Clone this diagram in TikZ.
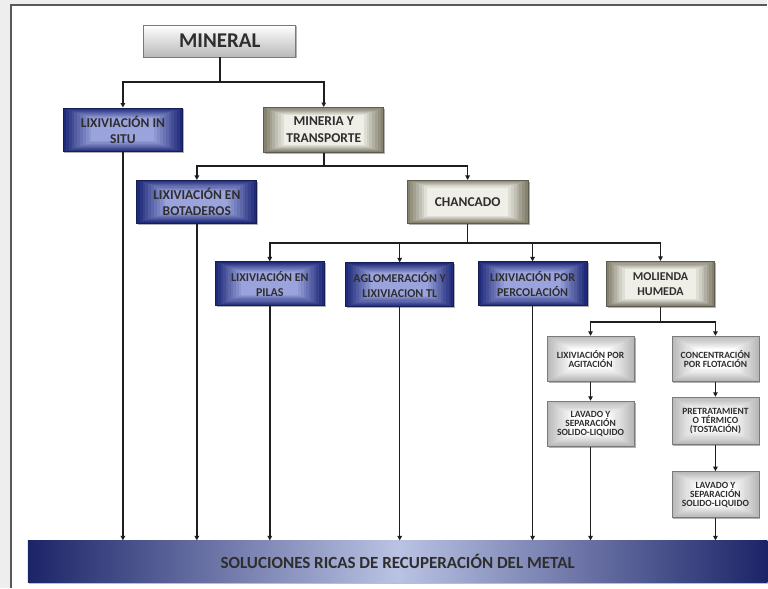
\documentclass[tikz,border=0pt]{standalone}
\usepackage{fontspec}
\setmainfont{Carlito}
\usetikzlibrary{arrows.meta,shadows,calc}

\definecolor{navy}{HTML}{1F2A78}
\definecolor{lightblue}{HTML}{9AA3DC}
\definecolor{khakiin}{HTML}{EFEEE7}
\definecolor{khakiout}{HTML}{858270}
\definecolor{khakiedge}{HTML}{5E5C4E}
\definecolor{greyout}{HTML}{B9B9B9}
\definecolor{greyedge}{HTML}{7A7A7A}
\definecolor{txt}{HTML}{2E2E2E}
\definecolor{linec}{HTML}{1E1E1E}
\definecolor{barnavy}{HTML}{1C2468}
\definecolor{barlight}{HTML}{BAC3E3}
\definecolor{pagebg}{HTML}{EEEEEE}

\begin{document}
\begin{tikzpicture}[x=1pt,y=-1pt,
  % rectangular glow from the rim (#2) to the centre (#1); #3 = steps to full centre colour
  rectglow/.style n args={3}{path picture={
    \foreach \i in {0,...,20}{
      \pgfmathsetmacro\t{0.5*\i/21}
      \pgfmathtruncatemacro\p{min(100,100*\i/#3)}
      \fill[#1!\p!#2]
        ($(path picture bounding box.south west)!\t!(path picture bounding box.north east)$)
        rectangle
        ($(path picture bounding box.north east)!\t!(path picture bounding box.south west)$);
    }}},
  basebox/.style={rectangle, align=center, inner sep=1pt, text=txt,
    font=\bfseries\fontsize{13.5}{16.5}\selectfont,
    drop shadow={shadow xshift=1.5pt, shadow yshift=-1.5pt, opacity=0.3, fill=black}},
  bluebox/.style={basebox, draw=navy!70!black, line width=0.8pt,
    rectglow={lightblue}{navy}{10}},
  khakibox/.style={basebox, draw=khakiedge, line width=0.8pt,
    rectglow={khakiin}{khakiout}{7}},
  rowfont/.style={font=\bfseries\fontsize{12}{15}\selectfont},
  greybox/.style={basebox, draw=greyedge, line width=0.8pt,
    rectglow={white}{greyout}{12},
    font=\bfseries\fontsize{9.5}{9}\selectfont},
  topbox/.style={basebox, draw=greyedge, line width=0.8pt,
    top color=white, bottom color=greyout,
    font=\bfseries\fontsize{21}{24}\selectfont},
  conn/.style={draw=linec, line width=1.6pt},
  arr/.style={conn, -{Triangle[length=4.5pt,width=4.5pt]}}
]
% page and panel
\fill[pagebg] (0,0) rectangle (768,588);
\fill[white] (11,5) rectangle (768,588);
\draw[black!65, line width=1.2pt] (11,588) -- (11,5) -- (768,5);
\useasboundingbox (0,0) rectangle (768,588);

% boxes
\node[topbox, minimum width=152pt, minimum height=32pt] (mineral) at (220,41) {MINERAL};

\node[bluebox, minimum width=120pt, minimum height=44pt] (insitu) at (123,130) {LIXIVIACIÓN IN\\SITU};
\node[khakibox, minimum width=120pt, minimum height=45pt] (mineria) at (324,130) {MINERIA Y\\TRANSPORTE};

\node[bluebox, minimum width=120pt, minimum height=43pt] (botaderos) at (197,202) {LIXIVIACIÓN EN\\BOTADEROS};
\node[khakibox, minimum width=121pt, minimum height=43pt] (chancado) at (468,202) {CHANCADO};

\node[bluebox, rowfont, minimum width=109pt, minimum height=44pt] (pilas) at (270,284) {LIXIVIACIÓN EN\\PILAS};
\node[bluebox, rowfont, minimum width=108pt, minimum height=44pt] (aglo) at (400,285) {AGLOMERACIÓN Y\\LIXIVIACION TL};
\node[bluebox, rowfont, minimum width=109pt, minimum height=44pt] (perco) at (533,284) {LIXIVIACIÓN POR\\PERCOLACIÓN};
\node[khakibox, rowfont, minimum width=108pt, minimum height=45pt] (molienda) at (661,284) {MOLIENDA\\HUMEDA};

\node[greybox, minimum width=87pt, minimum height=45pt] (agit) at (591,359) {LIXIVIACIÓN POR\\AGITACIÓN};
\node[greybox, minimum width=87pt, minimum height=45pt] (lavadoa) at (591,424) {LAVADO Y\\SEPARACIÓN\\SOLIDO-LIQUIDO};
\node[greybox, minimum width=87pt, minimum height=45pt] (flot) at (716,359) {CONCENTRACIÓN\\POR FLOTACIÓN};
\node[greybox, minimum width=87pt, minimum height=47pt] (pretrat) at (716,421) {PRETRATAMIENT\\O TÉRMICO\\(TOSTACIÓN)};
\node[greybox, minimum width=87pt, minimum height=46pt] (lavadob) at (716,495) {LAVADO Y\\SEPARACIÓN\\SOLIDO-LIQUIDO};

% collecting bar
\node[rectangle, minimum width=740pt, minimum height=42pt, inner sep=0pt,
  left color=barnavy, right color=barnavy, middle color=barlight, text=txt,
  font=\bfseries\fontsize{17}{20}\selectfont,
  drop shadow={shadow xshift=1.5pt, shadow yshift=-1.5pt, opacity=0.25, fill=black}]
  (bar) at (398,562) {SOLUCIONES RICAS DE RECUPERACIÓN DEL METAL};

% junctions
\coordinate (j1) at (220,82);
\coordinate (j2) at (324,166);
\coordinate (j3) at (468,243);
\coordinate (j4) at (661,322);

% tree connectors
\draw[conn] (mineral.south) -- (j1);
\draw[arr] (j1) -| (insitu.north);
\draw[arr] (j1) -| (mineria.north);

\draw[conn] (mineria.south) -- (j2);
\draw[arr] (j2) -| (botaderos.north);
\draw[arr] (j2) -| (chancado.north);

\draw[conn] (chancado.south) -- (j3);
\draw[arr] (j3) -| (pilas.north);
\draw[arr] (j3) -| (aglo.north);
\draw[arr] (j3) -| (perco.north);
\draw[arr] (j3) -| (molienda.north);

\draw[conn] (molienda.south) -- (j4);
\draw[arr] (j4) -| (agit.north);
\draw[arr] (j4) -| (flot.north);

\draw[arr] (agit.south) -- (lavadoa.north);
\draw[arr] (flot.south) -- (pretrat.north);
\draw[arr] (pretrat.south) -- (lavadob.north);

% drops into the collecting bar
\foreach \n in {insitu,botaderos,pilas,aglo,perco,lavadoa,lavadob}
  \draw[arr] (\n.south) -- (\n.south |- bar.north);
\end{tikzpicture}
\end{document}
